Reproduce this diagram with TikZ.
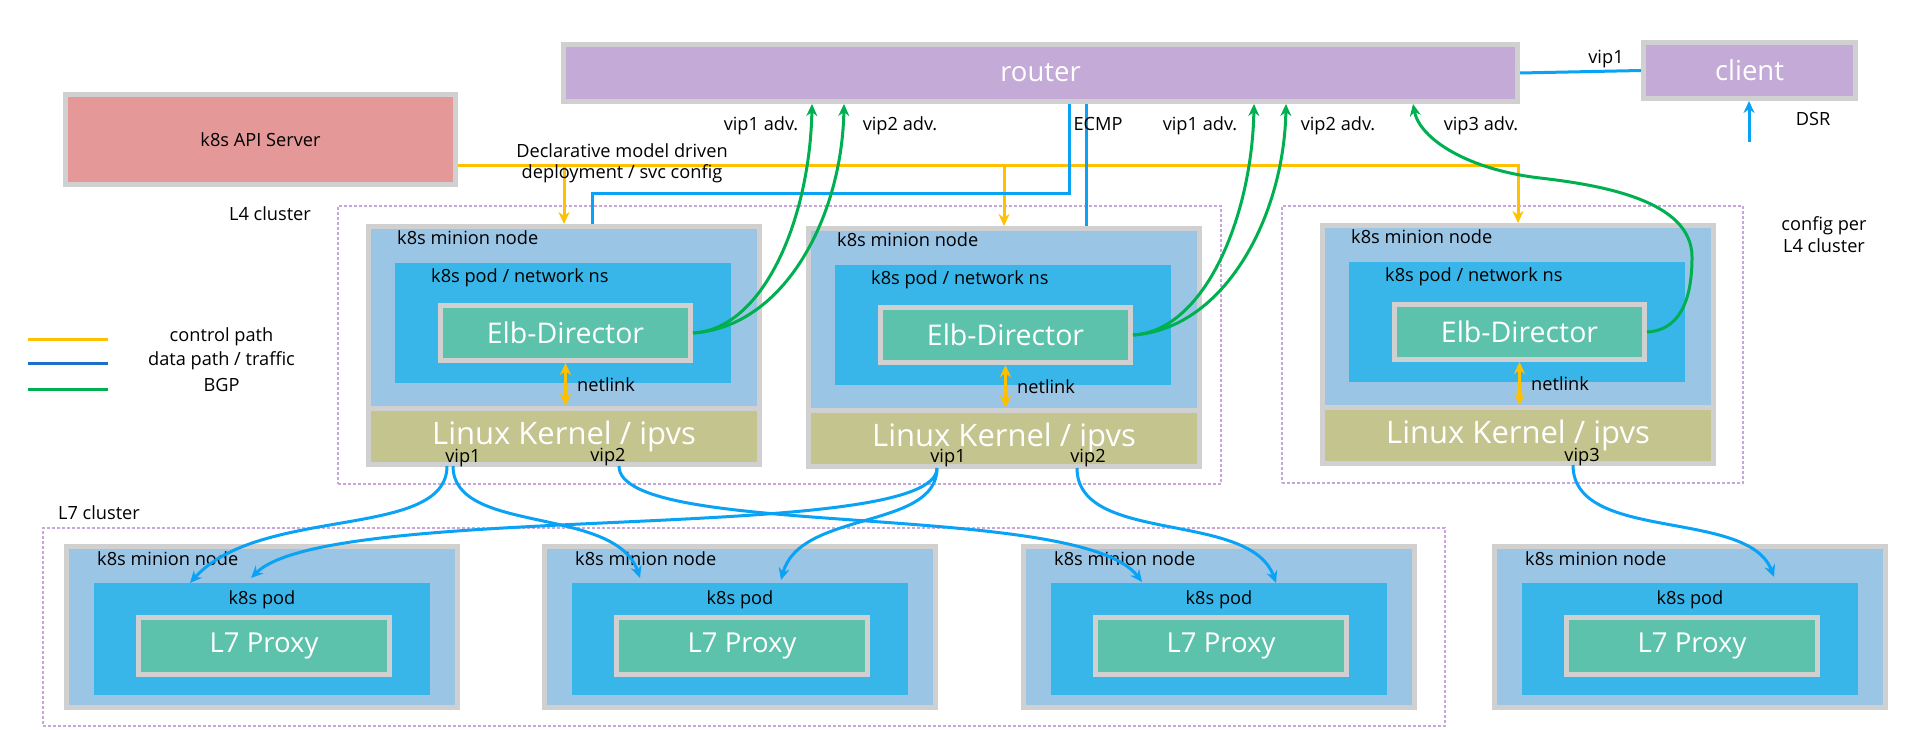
\documentclass[tikz,border=0pt]{standalone}
\usepackage{fontspec}
\setmainfont{Open Sans}
\usetikzlibrary{arrows.meta,calc}
\definecolor{bgray}{HTML}{D0D0D0}
\definecolor{rpurple}{HTML}{C4AAD6}
\definecolor{apipink}{HTML}{E49897}
\definecolor{minionblue}{HTML}{9BC5E5}
\definecolor{podblue}{HTML}{38B6EA}
\definecolor{elbgreen}{HTML}{5CC2AB}
\definecolor{kernelolive}{HTML}{C3C48E}
\definecolor{ctrlyellow}{HTML}{FFC000}
\definecolor{datablue}{HTML}{0AA2F5}
\definecolor{legblue}{HTML}{1C70C8}
\definecolor{bgpgreen}{HTML}{00B050}
\definecolor{clusterline}{HTML}{C8A6DC}

\newcommand\smallfont{\fontsize{18.2}{21}\selectfont}
\newcommand\bigfont{\fontsize{27.5}{32}\selectfont}
\newcommand\elbfont{\fontsize{28.5}{32}\selectfont}
\newcommand\kernfont{\fontsize{31}{36}\selectfont}

\tikzset{
  gbox/.style={draw=bgray, line width=5pt, outer sep=2.5pt, inner sep=0pt, anchor=north west},
  fbox/.style={inner sep=0pt, outer sep=0pt, anchor=north west},
  lbl/.style={font=\smallfont, inner sep=0pt, text=black},
  bigtxt/.style={font=\bigfont, text=white},
  ctrl/.style={draw=ctrlyellow, line width=3pt},
  data/.style={draw=datablue, line width=3pt},
  bgp/.style={draw=bgpgreen, line width=3pt},
  cluster/.style={fbox, draw=clusterline, line width=1.2pt, dash pattern=on 3pt off 2pt},
}

% L4 minion node: id, left x, top y
\newcommand\LfourNode[3]{%
  \node[gbox, fill=minionblue, minimum width=391pt, minimum height=182pt] (m#1) at (#2,#3) {};
  \node[fbox, fill=podblue, minimum width=336pt, minimum height=120pt] (p#1) at ({#2+29},{#3+39}) {};
  \node[gbox, font=\elbfont, text=white, fill=elbgreen, minimum width=250pt, minimum height=55pt] (e#1) at ({#2+72},{#3+79}) {Elb-Director};
  \node[gbox, fill=kernelolive, font=\kernfont, text=white, minimum width=391pt, minimum height=56pt] (k#1) at ({#2},{#3+182}) {Linux Kernel / ipvs};
  \node[lbl, anchor=mid west] (mt#1) at ({#2+31},{#3+18}) {k8s minion node};
  \node[lbl, anchor=mid west] (pt#1) at ({#2+65},{#3+56}) {k8s pod / network ns};
  \draw[ctrl, <->] (e#1.south) -- (e#1.south |- k#1.north);
  \node[lbl, anchor=mid west] (nl#1) at ({#2+211},{#3+165}) {netlink};
}
% L7 minion node: id, left x
\newcommand\LsevenNode[2]{%
  \node[gbox, fill=minionblue, minimum width=391pt, minimum height=161pt] (sm#1) at (#2,544) {};
  \node[fbox, fill=podblue, minimum width=336pt, minimum height=112pt] (sp#1) at ({#2+30},583) {};
  \node[gbox, bigtxt, fill=elbgreen, minimum width=251pt, minimum height=57pt] (sx#1) at ({#2+72},615) {L7 Proxy};
  \node[lbl, anchor=mid west] (smt#1) at ({#2+33},563) {k8s minion node};
  \node[lbl, anchor=mid] (spt#1) at ($(sp#1.north)+(0,19)$) {k8s pod};
}

\begin{document}
\begin{tikzpicture}[x=1pt, y=-1pt, >={Stealth[length=12pt,width=11pt]}]
\fill[white] (0,0) rectangle (1916,730);
\useasboundingbox (0,0) rectangle (1916,730);

% clusters
\node[cluster, minimum width=883pt, minimum height=278pt] (l4c) at (338,206) {};
\node[cluster, minimum width=461pt, minimum height=277pt] (l4d) at (1282,206) {};
\node[cluster, minimum width=1402pt, minimum height=198pt] (l7c) at (43,528) {};

% top boxes
\node[gbox, bigtxt, fill=rpurple, minimum width=954pt, minimum height=57pt] (router) at (561,42) {router};
\node[gbox, bigtxt, fill=rpurple, minimum width=212pt, minimum height=56pt] (client) at (1641,40) {client};
\node[gbox, fill=apipink, font=\smallfont, minimum width=390pt, minimum height=90pt] (api) at (63,92) {k8s API Server};

% nodes
\LfourNode{1}{366}{224}
\LfourNode{2}{806}{226}
\LfourNode{3}{1320}{223}
\LsevenNode{1}{64}
\LsevenNode{2}{542}
\LsevenNode{3}{1021}
\LsevenNode{4}{1492}

% control path
\coordinate (bus) at (0,166);
\draw[ctrl, ->] (api.east |- bus) -| (m3.north);
\draw[ctrl, ->] (m1.north |- bus) -- (m1.north);
\draw[ctrl, ->] (m2.north |- bus) -- (m2.north);

% data path from router
\coordinate (ra) at ($(router.south west)+(508,0)$);
\coordinate (rb) at ($(router.south west)+(525,0)$);
\coordinate (na) at ($(m1.north west)+(226,0)$);
\draw[data] (ra) -- ($(ra)+(0,90)$) -| (na);
\draw[data] (rb) -- (rb |- m2.north);
\draw[data] (router.east) -- (client.west);
\coordinate (dsr) at (1749,142);
\draw[data, ->] (dsr) -- (dsr |- client.south);

% BGP
\draw[bgp, ->] (e1.east) .. controls +(72,-4) and +(-2,112) .. ($(router.south west)+(251,0)$);
\draw[bgp, ->] (e1.east) .. controls +(92,-6) and +(-2,112) .. ($(router.south west)+(283,0)$);
\draw[bgp, ->] (e2.east) .. controls +(72,-4) and +(-2,112) .. ($(router.south west)+(693,0)$);
\draw[bgp, ->] (e2.east) .. controls +(92,-6) and +(-2,112) .. ($(router.south west)+(725,0)$);
\draw[bgp, ->] (e3.east) .. controls (1685,330) and (1692,290) .. (1692,257)
  .. controls (1692,200) and (1600,185) .. (1540,178)
  .. controls (1470,170) and (1420,140) .. ($(router.south west)+(852,0)$);

% data path L4 -> L7
\coordinate (s1a) at ($(k1.south west)+(81,-1)$);
\coordinate (s1b) at ($(k1.south west)+(87,-1)$);
\coordinate (s1c) at ($(k1.south west)+(253,-1)$);
\coordinate (s2a) at ($(k2.south west)+(131,-1)$);
\coordinate (s2c) at ($(k2.south west)+(271,-1)$);
\coordinate (s3c) at ($(k3.south west)+(253,-1)$);
\draw[data, ->] (s1a) .. controls (447,540) and (260,505) .. ($(sp1.north west)+(96,0)$);
\draw[data, ->] (s1b) .. controls (453,535) and (615,505) .. ($(sp2.north west)+(68,-5)$);
\draw[data, ->] (s1c) .. controls (619,540) and (1080,500) .. ($(sp3.north west)+(91,-1)$);
\draw[data, ->] (s2a) .. controls (937,545) and (330,500) .. ($(sp1.north west)+(157,-5)$);
\draw[data, ->] (s2a) .. controls (937,530) and (800,510) .. ($(sp2.north west)+(209,-3)$);
\draw[data, ->] (s2c) .. controls (1077,545) and (1250,510) .. ($(sp3.north west)+(225,0)$);
\draw[data, ->] (s3c) .. controls (1573,543) and (1748,508) .. ($(sp4.north west)+(252,-6)$);

% labels
\node[lbl, anchor=mid] (v11) at (463,460) {vip1};
\node[lbl, anchor=mid] (v12) at (608,459) {vip2};
\node[lbl, anchor=mid] (v21) at (948,460) {vip1};
\node[lbl, anchor=mid] (v22) at (1088,460) {vip2};
\node[lbl, anchor=mid] (v33) at (1582,459) {vip3};

\node[lbl, anchor=mid] (a1) at (761,128) {vip1 adv.};
\node[lbl, anchor=mid] (a2) at (900,128) {vip2 adv.};
\node[lbl, anchor=mid] (ecmp) at (1098,128) {ECMP};
\node[lbl, anchor=mid] (a3) at (1200,128) {vip1 adv.};
\node[lbl, anchor=mid] (a4) at (1338,128) {vip2 adv.};
\node[lbl, anchor=mid] (a5) at (1481,128) {vip3 adv.};
\node[lbl, anchor=mid] (cvip) at (1606,61) {vip1};
\node[lbl, anchor=mid] (dsrl) at (1813,123) {DSR};

\node[lbl, align=center] (decl) at (622,163.5) {Declarative model driven\\deployment / svc config};
\node[lbl, anchor=mid] (l4l) at (270,218) {L4 cluster};
\node[lbl, anchor=mid] (l7l) at (99,517) {L7 cluster};
\node[lbl, align=center, font=\fontsize{18.2}{22}\selectfont] (cfg) at (1824,235) {config per\\L4 cluster};

% legend
\coordinate (lg1a) at (28,339); \coordinate (lg1b) at (108,339);
\coordinate (lg2a) at (28,363); \coordinate (lg2b) at (108,363);
\coordinate (lg3a) at (28,389); \coordinate (lg3b) at (108,389);
\draw[ctrl] (lg1a) -- (lg1b);
\draw[draw=legblue, line width=3pt] (lg2a) -- (lg2b);
\draw[bgp] (lg3a) -- (lg3b);
\node[lbl, anchor=mid] (lt1) at (221.5,339) {control path};
\node[lbl, anchor=mid] (lt2) at (221.5,363) {data path / traffic};
\node[lbl, anchor=mid] (lt3) at (221.5,389) {BGP};
\end{tikzpicture}
\end{document}
